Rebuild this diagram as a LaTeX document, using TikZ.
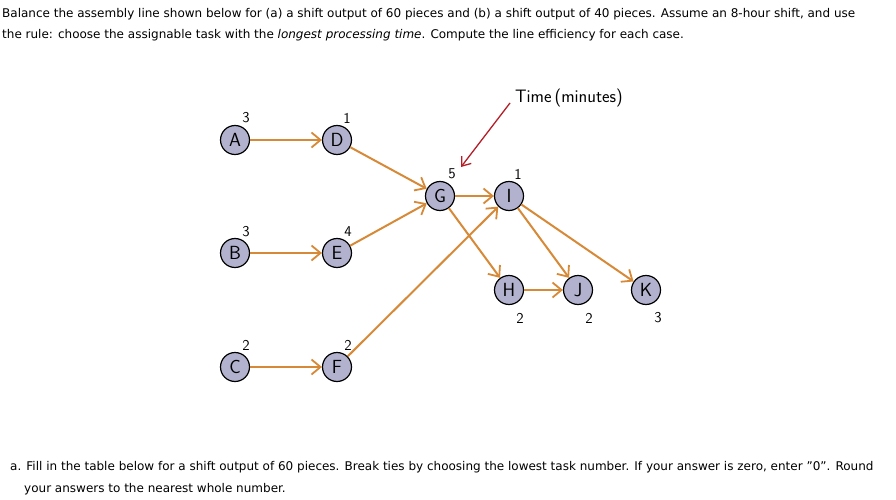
\documentclass[tikz,border=0pt]{standalone}
\usepackage{fontspec}
\setmainfont{DejaVu Sans}
\usetikzlibrary{arrows.meta}
\definecolor{nfill}{RGB}{178,178,206}
\definecolor{arr}{RGB}{214,138,56}
\definecolor{tred}{RGB}{180,30,40}
\begin{document}
\begin{tikzpicture}[x=1pt,y=-1pt,
  task/.style={circle,draw=black,line width=1.2pt,fill=nfill,minimum size=29pt,inner sep=0pt,font=\sffamily\fontsize{19}{19}\selectfont},
  num/.style={font=\sffamily\fontsize{15}{15}\selectfont},
  flow/.style={arr,line width=2pt,-{Straight Barb[length=9pt,width=15pt,line width=1.8pt]}},
  txt/.style={anchor=west,inner sep=0pt,font=\fontsize{12}{14}\selectfont}]
\useasboundingbox (0,0) rectangle (896,500);
\node[txt] (t1) at (2,14) {Balance the assembly line shown below for (a) a shift output of 60 pieces and (b) a shift output of 40 pieces. Assume an 8-hour shift, and use};
\node[txt] (t2) at (2,35) {the rule: choose the assignable task with the \textit{longest processing time}. Compute the line efficiency for each case.};
\node[txt] (t3) at (10,467) {a. Fill in the table below for a shift output of 60 pieces. Break ties by choosing the lowest task number. If your answer is zero, enter "0". Round};
\node[txt] (t4) at (24,489) {your answers to the nearest whole number.};
\node[task] (A) at (235,140) {A};
\node[task] (D) at (337,140) {D};
\node[task] (B) at (235,253) {B};
\node[task] (E) at (337,253) {E};
\node[task] (C) at (235,367) {C};
\node[task] (F) at (337,367) {F};
\node[task] (G) at (440,196) {G};
\node[task] (I) at (509,196) {I};
\node[task] (H) at (509,290) {H};
\node[task] (J) at (578,290) {J};
\node[task] (K) at (646,290) {K};
\node[num] (nA) at (246,118) {3};
\node[num] (nD) at (347,118) {1};
\node[num] (nG) at (452,174) {5};
\node[num] (nI) at (518,174) {1};
\node[num] (nB) at (246,232) {3};
\node[num] (nE) at (348,232) {4};
\node[num] (nC) at (246,345) {2};
\node[num] (nF) at (348,345) {2};
\node[num] (nH) at (520,318) {2};
\node[num] (nJ) at (589,318) {2};
\node[num] (nK) at (658,318) {3};
\node[font=\sffamily\fontsize{18}{18}\selectfont] (tm) at (569,98) {Time\,(minutes)};
\coordinate (rs) at (510,103);
\coordinate (re) at (461,167);
\draw[tred,line width=1.3pt,-{Straight Barb[length=8pt,width=12pt]}] (rs) -- (re);
\draw[flow] (A) -- (D);
\draw[flow] (B) -- (E);
\draw[flow] (C) -- (F);
\draw[flow] (D) -- (G);
\draw[flow] (E) -- (G);
\draw[flow] (F) -- (I);
\draw[flow] (G) -- (I);
\draw[flow] (G) -- (H);
\draw[flow] (H) -- (J);
\draw[flow] (I) -- (J);
\draw[flow] (I) -- (K);
\end{tikzpicture}
\end{document}
